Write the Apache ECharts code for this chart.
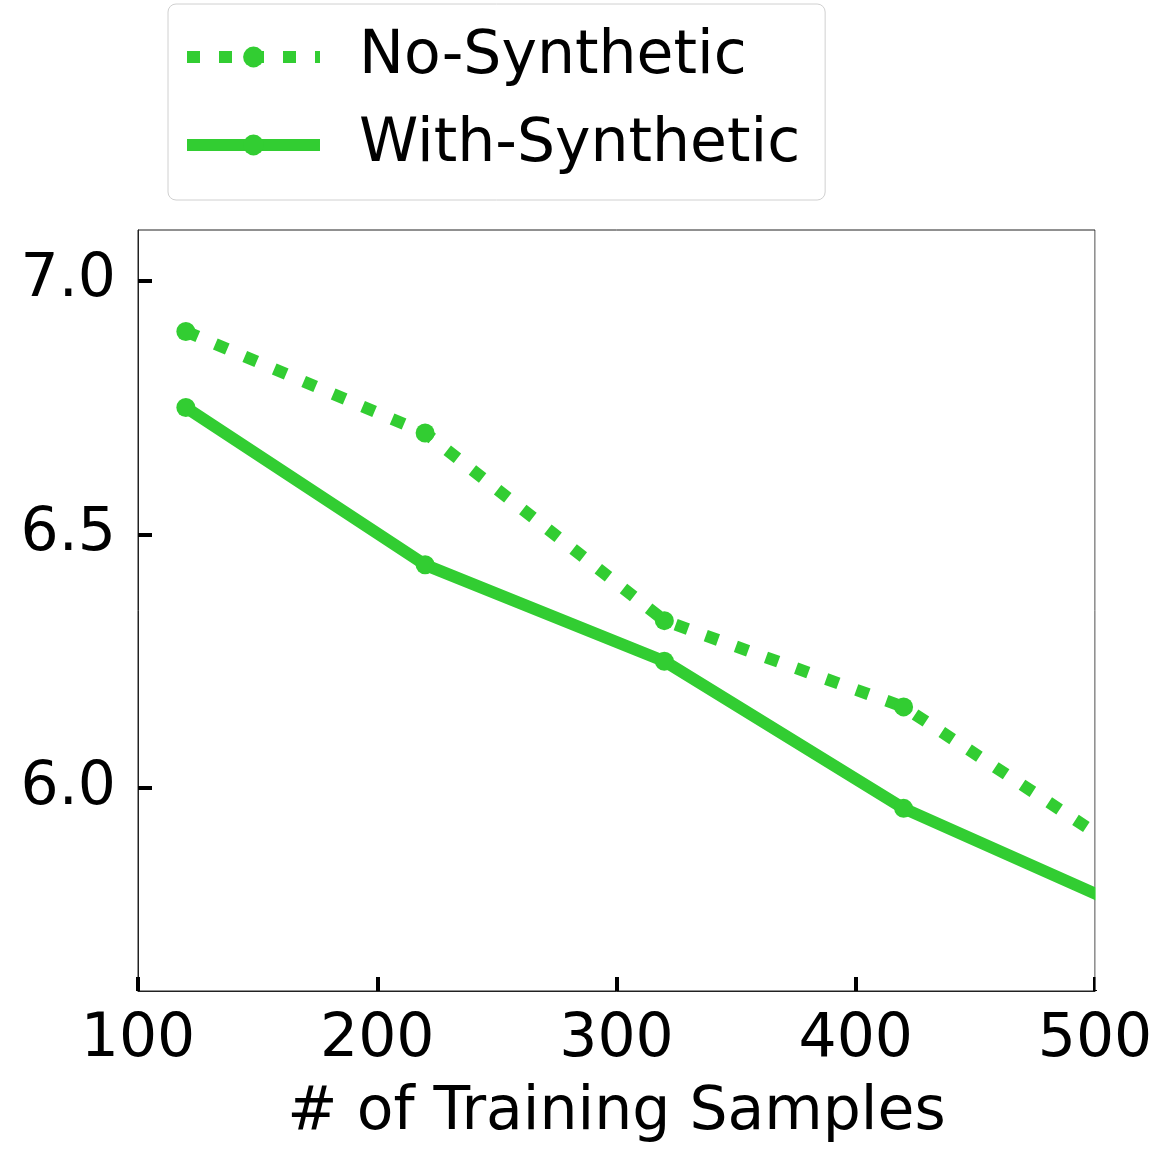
<!DOCTYPE html>
<html>
<head>
<meta charset="utf-8">
<script src="https://cdn.jsdelivr.net/npm/echarts@6/dist/echarts.min.js"></script>
<style>html,body{margin:0;padding:0;background:#fff}#c{width:1152px;height:1152px}</style>
</head>
<body>
<div id="c"></div>
<script>
const samples = [120, 220, 320, 420, 520];
const noSynthetic = [6.90, 6.70, 6.33, 6.16, 5.85];
const withSynthetic = [6.75, 6.44, 6.25, 5.96, 5.75];
const xTicks = [100, 200, 300, 400, 500];
const yTicks = [6.0, 6.5, 7.0];
const seriesNames = ['No-Synthetic', 'With-Synthetic'];

const FONT = 'DejaVu Sans';
const GREEN = '#32CD32';
const chart = echarts.init(document.getElementById('c'), null, {renderer: 'canvas'});

const pairs = arr => samples.map((x, i) => [x, arr[i]]);

chart.setOption({
  animation: false,
  backgroundColor: '#fff',
  textStyle: {fontFamily: FONT},
  grid: {left: 138, right: 57, top: 230, bottom: 161, show: true, borderColor: '#222', borderWidth: 1, backgroundColor: 'transparent', outerBoundsMode: 'none', containLabel: false},
  legend: {
    orient: 'vertical',
    left: 168, top: 4,
    padding: [20, 25, 22, 13],
    itemWidth: 133, itemHeight: 26, itemGap: 22,
    borderColor: '#d0d0d0', borderWidth: 1, borderRadius: 8,
    backgroundColor: '#fff',
    lineStyle: {width: 12, cap: 'butt'},
    textStyle: {fontFamily: FONT, fontSize: 60, color: '#000', lineHeight: 66, padding: [0, 0, 0, 34]},
    data: seriesNames
  },
  graphic: [{
    type: 'rect', z: 100, silent: true,
    shape: {x: 1095.6, y: 200, width: 60, height: 790},
    style: {fill: '#fff'}
  }],
  xAxis: {
    type: 'value', min: 100, max: 500, interval: 100,
    name: '# of Training Samples', nameLocation: 'middle', nameGap: 92,
    nameTextStyle: {fontFamily: FONT, fontSize: 60, color: '#000'},
    axisLine: {show: true, lineStyle: {color: '#222', width: 1}},
    axisTick: {show: true, inside: true, length: 14, lineStyle: {color: '#000', width: 4}, customValues: xTicks},
    axisLabel: {fontFamily: FONT, fontSize: 60, color: '#000', margin: 19, customValues: xTicks},
    splitLine: {show: false}
  },
  yAxis: {
    type: 'value', min: 5.6, max: 7.1,
    axisLine: {show: true, lineStyle: {color: '#222', width: 1}},
    axisTick: {show: true, inside: true, length: 14, lineStyle: {color: '#000', width: 4}, customValues: yTicks},
    axisLabel: {fontFamily: FONT, fontSize: 60, color: '#000', margin: 22, customValues: yTicks, formatter: v => Number(v).toFixed(1)},
    splitLine: {show: false}
  },
  series: [
    {
      name: seriesNames[0], type: 'line', data: pairs(noSynthetic),
      symbol: 'circle', symbolSize: 19, clip: true,
      itemStyle: {color: GREEN},
      lineStyle: {color: GREEN, width: 12, type: [13, 19], cap: 'butt'}
    },
    {
      name: seriesNames[1], type: 'line', data: pairs(withSynthetic),
      symbol: 'circle', symbolSize: 19, clip: true,
      itemStyle: {color: GREEN},
      lineStyle: {color: GREEN, width: 12, type: 'solid'}
    }
  ]
});
</script>
</body>
</html>
